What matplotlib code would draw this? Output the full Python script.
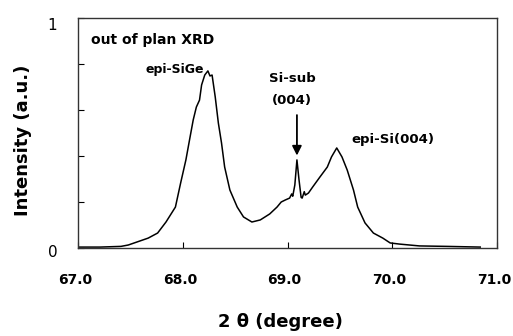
import matplotlib
matplotlib.use("Agg")
import matplotlib.pyplot as plt
import matplotlib.transforms as mtransforms
from matplotlib.ticker import MultipleLocator

plt.rcParams['font.family'] = ['DejaVu Sans']

two_theta = [67.00, 67.21, 67.41, 67.48, 67.67, 67.76, 67.84, 67.93, 67.98, 68.03,
             68.07, 68.10, 68.13, 68.16, 68.18, 68.21, 68.24, 68.26, 68.28, 68.31,
             68.34, 68.37, 68.40, 68.45, 68.52, 68.58, 68.66, 68.74, 68.83, 68.90,
             68.94, 68.98, 69.02, 69.04, 69.05, 69.07, 69.09, 69.11, 69.13, 69.14,
             69.16, 69.17, 69.20, 69.24, 69.31, 69.38, 69.42, 69.47, 69.52, 69.57,
             69.63, 69.67, 69.74, 69.82, 69.91, 69.98, 70.07, 70.26, 70.52, 70.84]
intensity = [0.004, 0.004, 0.007, 0.013, 0.043, 0.065, 0.113, 0.178, 0.283, 0.383,
             0.483, 0.557, 0.613, 0.643, 0.709, 0.752, 0.770, 0.748, 0.752, 0.657,
             0.543, 0.457, 0.352, 0.252, 0.178, 0.135, 0.113, 0.122, 0.148, 0.178,
             0.200, 0.209, 0.217, 0.235, 0.225, 0.274, 0.383, 0.296, 0.220, 0.217,
             0.245, 0.230, 0.239, 0.265, 0.309, 0.352, 0.396, 0.435, 0.396, 0.339,
             0.252, 0.178, 0.109, 0.065, 0.043, 0.022, 0.017, 0.009, 0.007, 0.004]

x_ticks = [67.0, 68.0, 69.0, 70.0, 71.0]
x_tick_labels = ["67.0", "68.0", "69.0", "70.0", "71.0"]
y_ticks = [0, 1]
y_tick_labels = ["0", "1"]

fig = plt.figure(figsize=(5.13, 3.36), dpi=100)
ax = fig.add_axes([78/513, 88/336, 419/513, 230/336])
ax.plot(two_theta, intensity, color='black', lw=1.1)

ax.set_xlim(67, 71)
ax.set_ylim(0, 1)
ax.set_xticks(x_ticks)
ax.set_xticklabels(x_tick_labels, fontweight='bold', fontsize=10)
ax.set_yticks(y_ticks)
ax.set_yticklabels(y_tick_labels, fontsize=11)
ax.yaxis.set_minor_locator(MultipleLocator(0.2))
ax.tick_params(axis='x', direction='in', length=4, pad=18, width=0.8)
ax.tick_params(axis='y', which='both', direction='in', length=4, pad=15, width=0.8)
ax.tick_params(top=False, right=False)
for s in ax.spines.values():
    s.set_linewidth(1.0)
    s.set_color('#333333')

for lbl, dy in zip(ax.get_yticklabels(), [-3, -6]):
    lbl.set_transform(lbl.get_transform() +
                      mtransforms.ScaledTranslation(0, dy/100, fig.dpi_scale_trans))
for lbl in ax.get_xticklabels():
    lbl.set_transform(lbl.get_transform() +
                      mtransforms.ScaledTranslation(-3/100, 0, fig.dpi_scale_trans))

ax.text(67.12, 0.905, "out of plan XRD", fontsize=10, fontweight='bold', va='center', ha='left')
ax.text(67.92, 0.775, "epi-SiGe", fontsize=9, fontweight='bold', va='center', ha='center')
ax.text(69.05, 0.735, "Si-sub", fontsize=9.5, fontweight='bold', va='center', ha='center')
ax.text(69.04, 0.64, "(004)", fontsize=9.5, fontweight='bold', va='center', ha='center')
ax.text(69.61, 0.47, "epi-Si(004)", fontsize=9.5, fontweight='bold', va='center', ha='left')
ax.annotate("", xy=(69.09, 0.39), xytext=(69.09, 0.59),
            arrowprops=dict(arrowstyle='-|>', color='black', lw=1.3, mutation_scale=14))

fig.text(23/513, 1 - 140/336, "Intensity (a.u.)", rotation=90, fontsize=13,
         fontweight='bold', ha='center', va='center')
fig.text(280/513, 1 - 322/336, "2 θ (degree)", fontsize=13, fontweight='bold',
         ha='center', va='center')

fig.savefig("out.png", dpi=100)
